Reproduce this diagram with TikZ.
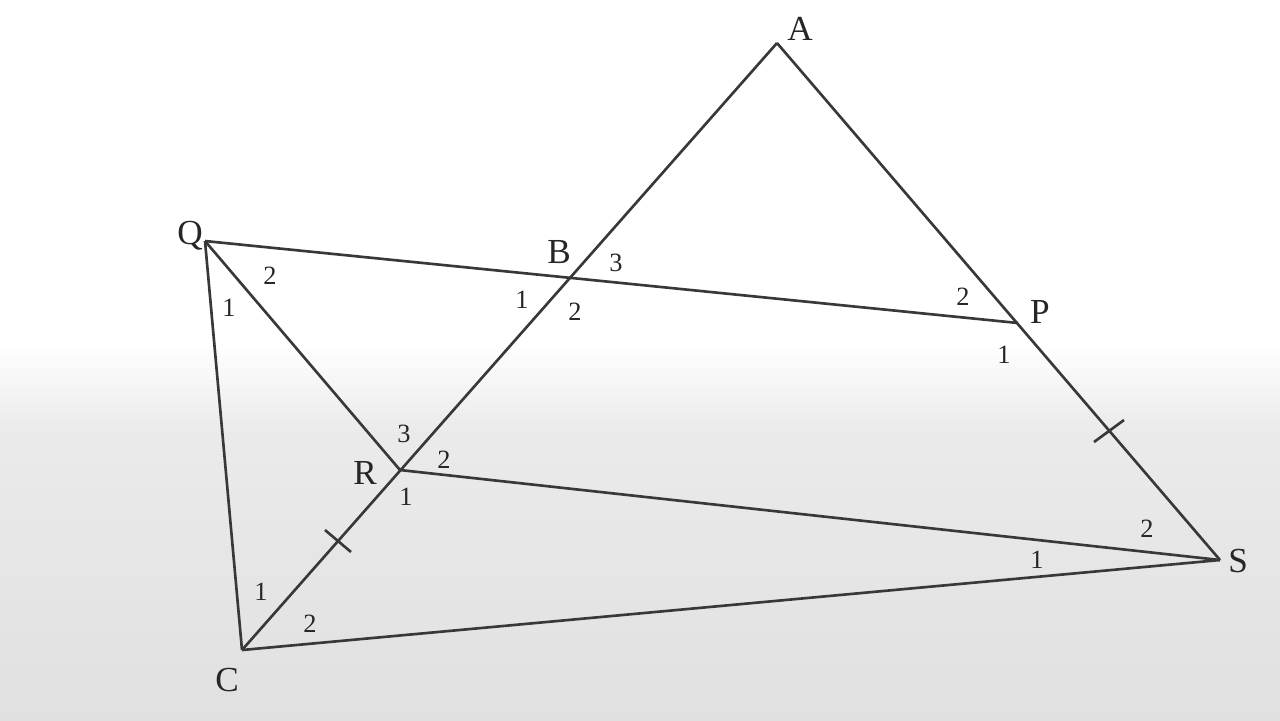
\documentclass[tikz,border=0pt]{standalone}
\usepackage{fontspec}
\setmainfont{Liberation Serif}
\usetikzlibrary{calc}
\begin{document}
\begin{tikzpicture}[x=0.01cm,y=-0.01cm,
  seg/.style={draw=black!78,line width=0.75pt},
  ptlab/.style={font=\fontsize{10}{12}\selectfont,text=black!85,inner sep=0pt},
  anglab/.style={font=\fontsize{7.5}{9}\selectfont,text=black!85,inner sep=0pt}]
\useasboundingbox (0,0) rectangle (1280,720);
\fill[white] (0,0) rectangle (1280,345);
\shade[top color=white,bottom color=black!8] (0,344) rectangle (1280,430);
\shade[top color=black!8,bottom color=black!12] (0,429) rectangle (1280,720);
% points
\coordinate (A) at (777,43);
\coordinate (B) at (569,278);
\coordinate (Q) at (205,241);
\coordinate (P) at (1018,323);
\coordinate (R) at (400,470);
\coordinate (C) at (242,650);
\coordinate (S) at (1220,560);
\coordinate (T1) at (338,541);
\coordinate (T2) at (1109,431);
% segments
\draw[seg] (A) -- (C);
\draw[seg] (A) -- (S);
\draw[seg] (Q) -- (P);
\draw[seg] (Q) -- (R);
\draw[seg] (Q) -- (C);
\draw[seg] (R) -- (S);
\draw[seg] (C) -- (S);
% ticks
\draw[seg] ($(T1)+(-13,-11)$) -- ($(T1)+(13,11)$);
\draw[seg] ($(T2)+(-15,11)$) -- ($(T2)+(15,-11)$);
% point labels
\node[ptlab] (lA) at (800,29) {A};
\node[ptlab] (lB) at (559,252) {B};
\node[ptlab] (lQ) at (190,236) {Q};
\node[ptlab] (lP) at (1040,312) {P};
\node[ptlab] (lR) at (365,473) {R};
\node[ptlab] (lC) at (227,680) {C};
\node[ptlab] (lS) at (1238,561) {S};
% angle labels
\node[anglab] (q2) at (270,276) {2};
\node[anglab] (q1) at (229,308) {1};
\node[anglab] (b3) at (616,263) {3};
\node[anglab] (b1) at (522,300) {1};
\node[anglab] (b2) at (575,312) {2};
\node[anglab] (p2) at (963,297) {2};
\node[anglab] (p1) at (1004,355) {1};
\node[anglab] (r3) at (404,434) {3};
\node[anglab] (r2) at (444,460) {2};
\node[anglab] (r1) at (406,497) {1};
\node[anglab] (c1) at (261,592) {1};
\node[anglab] (c2) at (310,624) {2};
\node[anglab] (s1) at (1037,560) {1};
\node[anglab] (s2) at (1147,529) {2};
\end{tikzpicture}
\end{document}
